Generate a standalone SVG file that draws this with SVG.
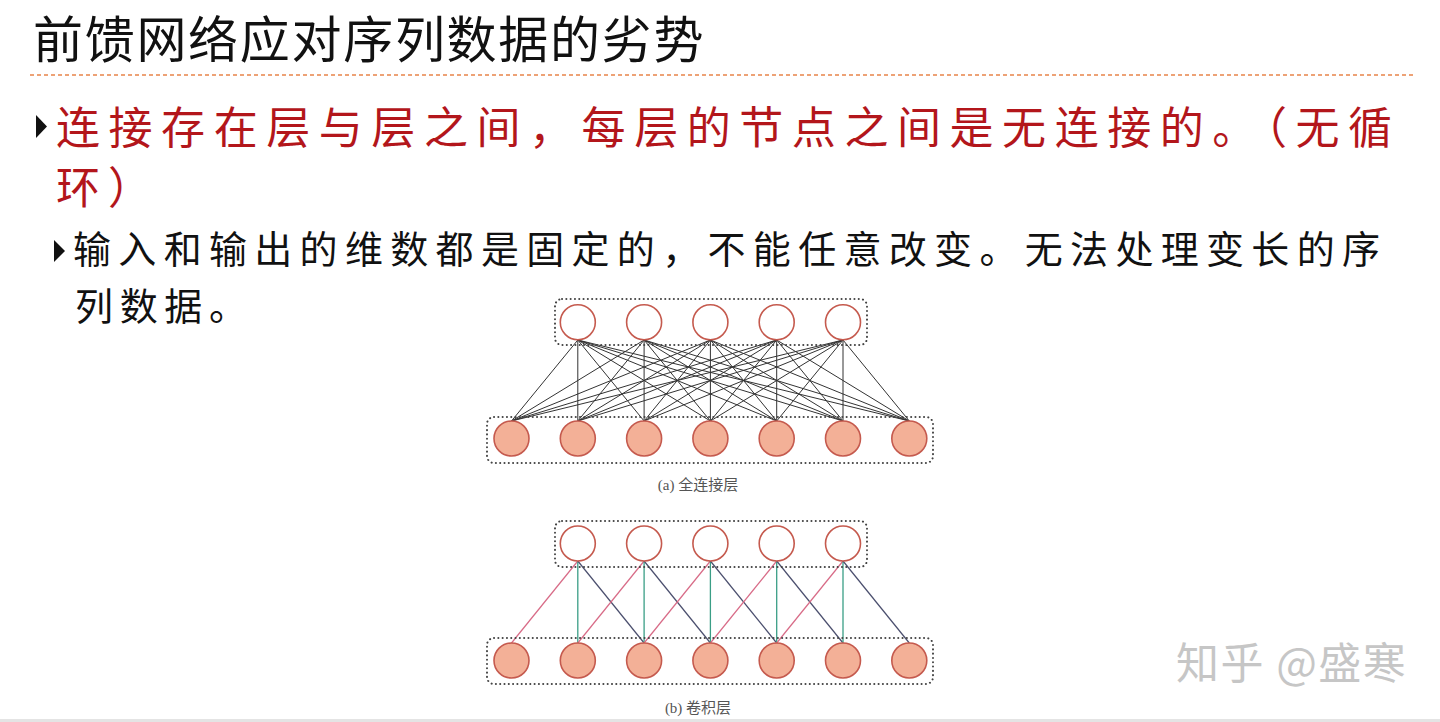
<svg xmlns="http://www.w3.org/2000/svg" width="1440" height="722" viewBox="0 0 1440 722">
<style>
.title{font-family:"Noto Sans CJK SC","Noto Sans",sans-serif;font-size:50px;fill:#111;letter-spacing:1.7px}
.red{font-family:"Noto Sans CJK SC",sans-serif;font-size:44px;fill:#b3161b}
.blk{font-family:"Noto Sans CJK SC",sans-serif;font-size:38px;fill:#111}
.cap{font-family:"Liberation Serif","Noto Sans CJK SC",serif;font-size:15px;fill:#555}
.wm{font-family:"Noto Sans CJK SC","Noto Sans",sans-serif;font-size:43px;fill:#c6c6c6;letter-spacing:1.5px}
.box{fill:none;stroke:#444;stroke-width:2;stroke-dasharray:0.1 4.2;stroke-linecap:round}
.nt{fill:#fff;stroke:#c55a4e;stroke-width:1.6}
.nb{fill:#f3b097;stroke:#c55a4e;stroke-width:1.6}
.fc line{stroke:#333;stroke-width:1}
.pk{stroke:#d86b87;stroke-width:1.2}
.gr{stroke:#3a9e86;stroke-width:1.3}
.dk{stroke:#4b4f6e;stroke-width:1.2}
</style>
<rect width="1440" height="722" fill="#fff"/>
<rect x="0" y="719" width="1440" height="3" fill="#e4e4e4"/>

<g id="title">
<text class="title" x="33" y="58">前馈网络应对序列数据的劣势</text>
<line x1="30" y1="75" x2="1415" y2="75" stroke="#e8844a" stroke-width="1.3" stroke-dasharray="4 3"/>
</g>

<g id="bullet1">
<polygon points="36,115 47,126.5 36,138" fill="#111"/>
<text class="red" x="56" y="144" textLength="1336" lengthAdjust="spacing">连接存在层与层之间，每层的节点之间是无连接的。（无循</text>
<text class="red" x="56" y="204" textLength="96" lengthAdjust="spacing">环）</text>
</g>

<g id="bullet2">
<polygon points="54,240 65,251 54,262" fill="#111"/>
<text class="blk" x="73" y="263" textLength="1307" lengthAdjust="spacing">输入和输出的维数都是固定的，不能任意改变。无法处理变长的序</text>
<text class="blk" x="75" y="320" textLength="172" lengthAdjust="spacing">列数据。</text>
</g>

<g id="fc-connectors" class="fc">
<line x1="577.8" y1="340" x2="511.5" y2="421"/><line x1="577.8" y1="340" x2="577.8" y2="421"/><line x1="577.8" y1="340" x2="644.1" y2="421"/><line x1="577.8" y1="340" x2="710.4" y2="421"/><line x1="577.8" y1="340" x2="776.7" y2="421"/><line x1="577.8" y1="340" x2="843" y2="421"/><line x1="577.8" y1="340" x2="909.3" y2="421"/>
<line x1="644.1" y1="340" x2="511.5" y2="421"/><line x1="644.1" y1="340" x2="577.8" y2="421"/><line x1="644.1" y1="340" x2="644.1" y2="421"/><line x1="644.1" y1="340" x2="710.4" y2="421"/><line x1="644.1" y1="340" x2="776.7" y2="421"/><line x1="644.1" y1="340" x2="843" y2="421"/><line x1="644.1" y1="340" x2="909.3" y2="421"/>
<line x1="710.4" y1="340" x2="511.5" y2="421"/><line x1="710.4" y1="340" x2="577.8" y2="421"/><line x1="710.4" y1="340" x2="644.1" y2="421"/><line x1="710.4" y1="340" x2="710.4" y2="421"/><line x1="710.4" y1="340" x2="776.7" y2="421"/><line x1="710.4" y1="340" x2="843" y2="421"/><line x1="710.4" y1="340" x2="909.3" y2="421"/>
<line x1="776.7" y1="340" x2="511.5" y2="421"/><line x1="776.7" y1="340" x2="577.8" y2="421"/><line x1="776.7" y1="340" x2="644.1" y2="421"/><line x1="776.7" y1="340" x2="710.4" y2="421"/><line x1="776.7" y1="340" x2="776.7" y2="421"/><line x1="776.7" y1="340" x2="843" y2="421"/><line x1="776.7" y1="340" x2="909.3" y2="421"/>
<line x1="843" y1="340" x2="511.5" y2="421"/><line x1="843" y1="340" x2="577.8" y2="421"/><line x1="843" y1="340" x2="644.1" y2="421"/><line x1="843" y1="340" x2="710.4" y2="421"/><line x1="843" y1="340" x2="776.7" y2="421"/><line x1="843" y1="340" x2="843" y2="421"/><line x1="843" y1="340" x2="909.3" y2="421"/>
</g>

<g id="fc-top-layer">
<rect class="box" x="555" y="299" width="312" height="46" rx="7"/>
<circle class="nt" cx="577.8" cy="322.3" r="17.5"/>
<circle class="nt" cx="644.1" cy="322.3" r="17.5"/>
<circle class="nt" cx="710.4" cy="322.3" r="17.5"/>
<circle class="nt" cx="776.7" cy="322.3" r="17.5"/>
<circle class="nt" cx="843" cy="322.3" r="17.5"/>
</g>
<g id="fc-bottom-layer">
<rect class="box" x="487" y="417" width="446" height="46" rx="7"/>
<circle class="nb" cx="511.5" cy="438.5" r="17.5"/>
<circle class="nb" cx="577.8" cy="438.5" r="17.5"/>
<circle class="nb" cx="644.1" cy="438.5" r="17.5"/>
<circle class="nb" cx="710.4" cy="438.5" r="17.5"/>
<circle class="nb" cx="776.7" cy="438.5" r="17.5"/>
<circle class="nb" cx="843" cy="438.5" r="17.5"/>
<circle class="nb" cx="909.3" cy="438.5" r="17.5"/>
</g>
<text id="cap-a" class="cap" x="698" y="490" text-anchor="middle">(a) 全连接层</text>

<g id="conv-connectors">
<line class="pk" x1="577.8" y1="561" x2="511.5" y2="643"/><line class="gr" x1="577.8" y1="561" x2="577.8" y2="643"/><line class="dk" x1="577.8" y1="561" x2="644.1" y2="643"/>
<line class="pk" x1="644.1" y1="561" x2="577.8" y2="643"/><line class="gr" x1="644.1" y1="561" x2="644.1" y2="643"/><line class="dk" x1="644.1" y1="561" x2="710.4" y2="643"/>
<line class="pk" x1="710.4" y1="561" x2="644.1" y2="643"/><line class="gr" x1="710.4" y1="561" x2="710.4" y2="643"/><line class="dk" x1="710.4" y1="561" x2="776.7" y2="643"/>
<line class="pk" x1="776.7" y1="561" x2="710.4" y2="643"/><line class="gr" x1="776.7" y1="561" x2="776.7" y2="643"/><line class="dk" x1="776.7" y1="561" x2="843" y2="643"/>
<line class="pk" x1="843" y1="561" x2="776.7" y2="643"/><line class="gr" x1="843" y1="561" x2="843" y2="643"/><line class="dk" x1="843" y1="561" x2="909.3" y2="643"/>
</g>

<g id="conv-top-layer">
<rect class="box" x="555" y="521" width="312" height="46" rx="7"/>
<circle class="nt" cx="577.8" cy="543.5" r="17.5"/>
<circle class="nt" cx="644.1" cy="543.5" r="17.5"/>
<circle class="nt" cx="710.4" cy="543.5" r="17.5"/>
<circle class="nt" cx="776.7" cy="543.5" r="17.5"/>
<circle class="nt" cx="843" cy="543.5" r="17.5"/>
</g>
<g id="conv-bottom-layer">
<rect class="box" x="487" y="638" width="446" height="46" rx="7"/>
<circle class="nb" cx="511.5" cy="660.5" r="17.5"/>
<circle class="nb" cx="577.8" cy="660.5" r="17.5"/>
<circle class="nb" cx="644.1" cy="660.5" r="17.5"/>
<circle class="nb" cx="710.4" cy="660.5" r="17.5"/>
<circle class="nb" cx="776.7" cy="660.5" r="17.5"/>
<circle class="nb" cx="843" cy="660.5" r="17.5"/>
<circle class="nb" cx="909.3" cy="660.5" r="17.5"/>
</g>
<text id="cap-b" class="cap" x="698" y="713" text-anchor="middle">(b) 卷积层</text>

<text id="watermark" class="wm" x="1176" y="679">知乎 @盛寒</text>
</svg>
